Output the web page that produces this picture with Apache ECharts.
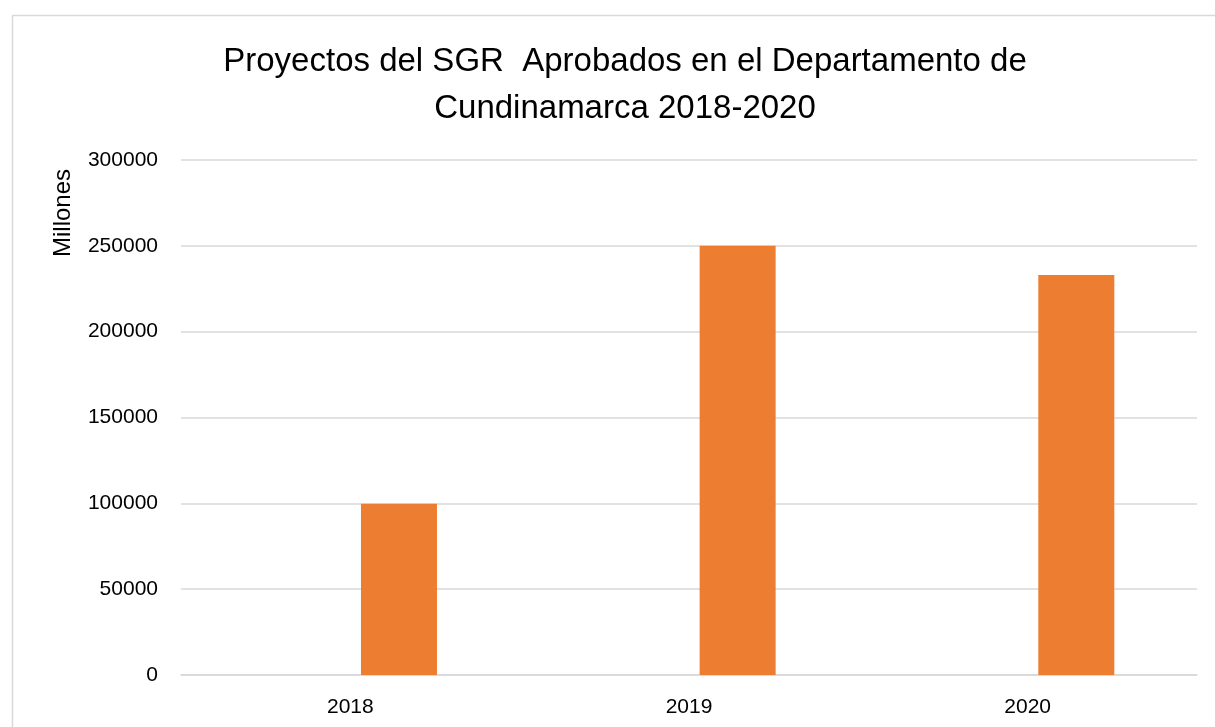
<!DOCTYPE html>
<html>
<head>
<meta charset="utf-8">
<script src="https://cdn.jsdelivr.net/npm/echarts@6/dist/echarts.min.js"></script>
<style>
html,body{margin:0;padding:0;background:#fff;}
#chart{width:1215px;height:727px;}
</style>
</head>
<body>
<div id="chart"></div>
<script>
const categories = ['2018', '2019', '2020'];
const emptySeries = ['-', '-', '-'];
const aprobados = [99700, 250000, 233000];
const yTicks = { min: 0, max: 300000, interval: 50000 };
const titleLines = ['Proyectos del SGR  Aprobados en el Departamento de', 'Cundinamarca 2018-2020'];
const yAxisTitle = 'Millones';

const chart = echarts.init(document.getElementById('chart'));
const font = 'Liberation Sans, Arial, sans-serif';
chart.setOption({
  backgroundColor: '#fff',
  animation: false,
  title: {
    text: titleLines.join('\n'),
    left: 620,
    top: 33,
    textAlign: 'center',
    textStyle: { fontFamily: font, fontSize: 33, fontWeight: 'normal', color: '#000', lineHeight: 47 }
  },
  graphic: [
    { type: 'rect', shape: { x: 12.5, y: 15.5, width: 1300, height: 800 }, style: { fill: 'none', stroke: '#d9d9d9', lineWidth: 1.5 }, silent: true },
    { type: 'text', x: 63, y: 213, rotation: Math.PI / 2,
      style: { text: yAxisTitle, fontFamily: font, fontSize: 24, fill: '#000', align: 'center', verticalAlign: 'middle' } }
  ],
  grid: { left: 181, right: 18, top: 160, bottom: 52, containLabel: false },
  xAxis: {
    type: 'category',
    data: categories,
    axisLine: { show: true, lineStyle: { color: '#d9d9d9', width: 1.5 } },
    axisTick: { show: false },
    axisLabel: { fontFamily: font, fontSize: 21, color: '#000', margin: 22 }
  },
  yAxis: {
    type: 'value',
    min: yTicks.min, max: yTicks.max, interval: yTicks.interval,
    axisLine: { show: false },
    axisTick: { show: false },
    splitLine: { lineStyle: { color: '#d9d9d9', width: 1.5 } },
    axisLabel: { fontFamily: font, fontSize: 21, color: '#000', margin: 23, formatter: v => String(v) }
  },
  series: [
    { type: 'bar', data: emptySeries, barWidth: 76, barGap: '28%', itemStyle: { color: '#4472C4' } },
    { type: 'bar', data: aprobados, barWidth: 76, barGap: '28%', itemStyle: { color: '#ED7D31' } }
  ]
});
</script>
</body>
</html>
